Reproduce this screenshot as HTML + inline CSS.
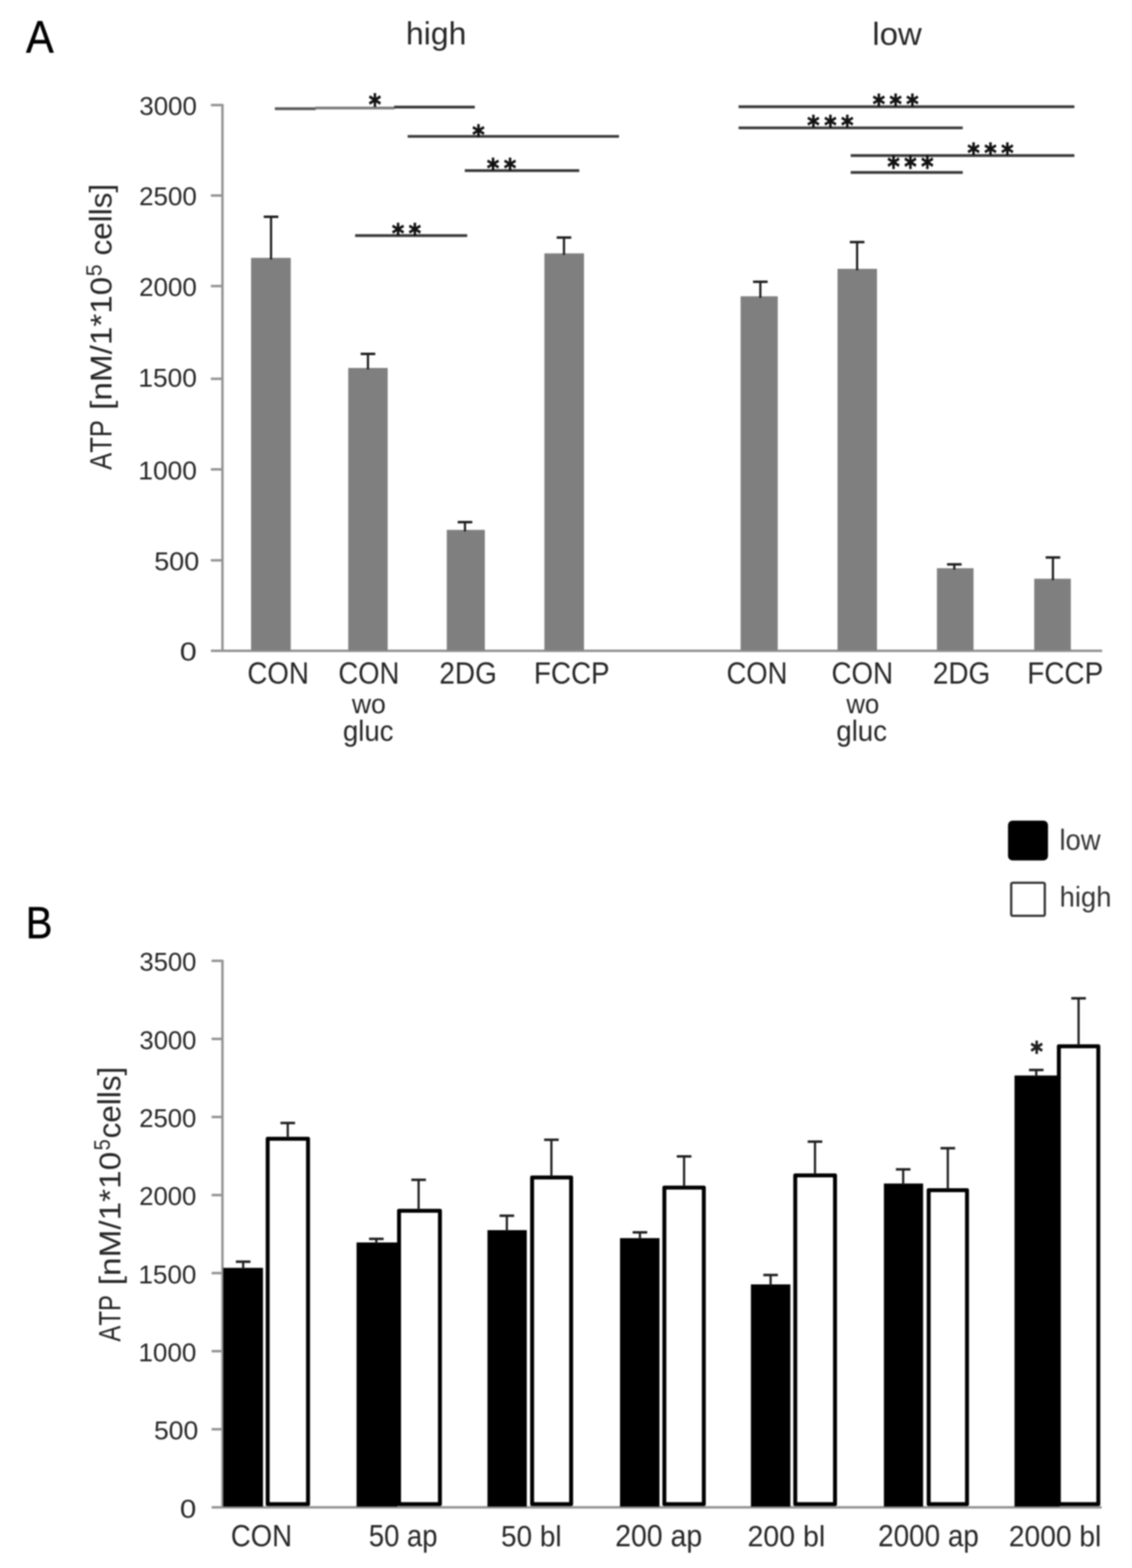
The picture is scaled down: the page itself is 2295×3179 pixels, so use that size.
<!DOCTYPE html>
<html><head><meta charset="utf-8"><title>ATP figure</title>
<style>
html,body{margin:0;padding:0;background:#fff;overflow:hidden;width:2295px;height:3179px;}
svg{display:block;filter:blur(1.5px);}
text{font-kerning:none;}
</style></head>
<body>
<svg width="2295" height="3179" viewBox="0 0 2295 3179">
<rect width="2295" height="3179" fill="#fff"/>
<text transform="matrix(0.9018,0,0,1,52.64,107.40)" font-family="'Liberation Sans', sans-serif" font-size="93.32" fill="#000" stroke="#000" stroke-width="0.8" stroke-linejoin="round">A</text>
<text transform="matrix(1.0110,0,0,1,823.11,90.20)" font-family="'Liberation Sans', sans-serif" font-size="64.03" fill="#262626">high</text>
<text transform="matrix(1.0277,0,0,1,1768.60,90.90)" font-family="'Liberation Sans', sans-serif" font-size="65.00" fill="#262626">low</text>
<line x1="451" y1="211.3" x2="451" y2="1319.6" stroke="#939393" stroke-width="5"/>
<line x1="427.5" y1="1319.6" x2="2234.5" y2="1319.6" stroke="#939393" stroke-width="5"/>
<line x1="427.5" y1="1136.0" x2="452" y2="1136.0" stroke="#939393" stroke-width="5"/>
<line x1="427.5" y1="951.6" x2="452" y2="951.6" stroke="#939393" stroke-width="5"/>
<line x1="427.5" y1="768.0" x2="452" y2="768.0" stroke="#939393" stroke-width="5"/>
<line x1="427.5" y1="580.0" x2="452" y2="580.0" stroke="#939393" stroke-width="5"/>
<line x1="427.5" y1="396.4" x2="452" y2="396.4" stroke="#939393" stroke-width="5"/>
<line x1="427.5" y1="213.0" x2="452" y2="213.0" stroke="#939393" stroke-width="5"/>
<text transform="matrix(1.1969,0,0,1,364.59,1339.30)" font-family="'Liberation Sans', sans-serif" font-size="51.56" fill="#262626">0</text>
<text transform="matrix(1.0488,0,0,1,312.71,1156.40)" font-family="'Liberation Sans', sans-serif" font-size="52.13" fill="#262626">500</text>
<text transform="matrix(1.0222,0,0,1,280.54,972.10)" font-family="'Liberation Sans', sans-serif" font-size="52.13" fill="#262626">1000</text>
<text transform="matrix(1.0222,0,0,1,280.54,783.90)" font-family="'Liberation Sans', sans-serif" font-size="52.13" fill="#262626">1500</text>
<text transform="matrix(1.0098,0,0,1,281.95,599.60)" font-family="'Liberation Sans', sans-serif" font-size="52.13" fill="#262626">2000</text>
<text transform="matrix(1.0098,0,0,1,281.95,416.30)" font-family="'Liberation Sans', sans-serif" font-size="52.13" fill="#262626">2500</text>
<text transform="matrix(1.0040,0,0,1,282.61,233.00)" font-family="'Liberation Sans', sans-serif" font-size="52.13" fill="#262626">3000</text>
<text transform="matrix(0,-0.8354,1,0,226.00,952.50)" font-family="'Liberation Sans', sans-serif" font-size="62.07" fill="#262626">ATP</text>
<text transform="matrix(0,-1.0878,1,0,226.00,831.01)" font-family="'Liberation Sans', sans-serif" font-size="62.00" fill="#262626">[nM/1*10</text>
<text transform="matrix(0,-0.9518,1,0,205.60,560.12)" font-family="'Liberation Sans', sans-serif" font-size="45.20" fill="#262626">5</text>
<text transform="matrix(0,-1.0134,1,0,226.00,518.11)" font-family="'Liberation Sans', sans-serif" font-size="63.00" fill="#262626">cells]</text>
<rect x="509.0" y="522.8" width="80.5" height="795.8" fill="#7f7f7f"/>
<rect x="706.0" y="746.0" width="80.0" height="572.6" fill="#7f7f7f"/>
<rect x="905.8" y="1074.3" width="77.2" height="244.3" fill="#7f7f7f"/>
<rect x="1103.7" y="513.7" width="80.3" height="804.9" fill="#7f7f7f"/>
<rect x="1501.5" y="600.7" width="75.3" height="717.9" fill="#7f7f7f"/>
<rect x="1698.0" y="545.0" width="80.0" height="773.6" fill="#7f7f7f"/>
<rect x="1899.5" y="1152.0" width="74.2" height="166.6" fill="#7f7f7f"/>
<rect x="2096.8" y="1173.3" width="74.2" height="145.3" fill="#7f7f7f"/>
<line x1="549.5" y1="439.5" x2="549.5" y2="525.8" stroke="#1e1e1e" stroke-width="4.5"/>
<line x1="534.7" y1="439.5" x2="564.3" y2="439.5" stroke="#1e1e1e" stroke-width="5"/>
<line x1="746.0" y1="717.5" x2="746.0" y2="749.0" stroke="#1e1e1e" stroke-width="4.5"/>
<line x1="731.2" y1="717.5" x2="760.8" y2="717.5" stroke="#1e1e1e" stroke-width="5"/>
<line x1="942.7" y1="1058.6" x2="942.7" y2="1077.3" stroke="#1e1e1e" stroke-width="4.5"/>
<line x1="927.9" y1="1058.6" x2="957.5" y2="1058.6" stroke="#1e1e1e" stroke-width="5"/>
<line x1="1143.4" y1="481.6" x2="1143.4" y2="516.7" stroke="#1e1e1e" stroke-width="4.5"/>
<line x1="1128.6" y1="481.6" x2="1158.2" y2="481.6" stroke="#1e1e1e" stroke-width="5"/>
<line x1="1541.5" y1="571.3" x2="1541.5" y2="603.7" stroke="#1e1e1e" stroke-width="4.5"/>
<line x1="1526.7" y1="571.3" x2="1556.3" y2="571.3" stroke="#1e1e1e" stroke-width="5"/>
<line x1="1737.7" y1="490.8" x2="1737.7" y2="548.0" stroke="#1e1e1e" stroke-width="4.5"/>
<line x1="1722.9" y1="490.8" x2="1752.5" y2="490.8" stroke="#1e1e1e" stroke-width="5"/>
<line x1="1934.8" y1="1144.2" x2="1934.8" y2="1155.0" stroke="#1e1e1e" stroke-width="4.5"/>
<line x1="1920.0" y1="1144.2" x2="1949.6" y2="1144.2" stroke="#1e1e1e" stroke-width="5"/>
<line x1="2134.7" y1="1130.2" x2="2134.7" y2="1176.3" stroke="#1e1e1e" stroke-width="4.5"/>
<line x1="2119.9" y1="1130.2" x2="2149.5" y2="1130.2" stroke="#1e1e1e" stroke-width="5"/>
<text transform="matrix(0.9010,0,0,1,501.55,1386.00)" font-family="'Liberation Sans', sans-serif" font-size="62.30" fill="#262626">CON</text>
<text transform="matrix(0.8925,0,0,1,1472.98,1386.00)" font-family="'Liberation Sans', sans-serif" font-size="62.30" fill="#262626">CON</text>
<text transform="matrix(0.8917,0,0,1,686.08,1386.00)" font-family="'Liberation Sans', sans-serif" font-size="62.30" fill="#262626">CON</text>
<text transform="matrix(0.9040,0,0,1,1685.64,1386.00)" font-family="'Liberation Sans', sans-serif" font-size="62.30" fill="#262626">CON</text>
<text transform="matrix(0.9651,0,0,1,713.48,1446.00)" font-family="'Liberation Sans', sans-serif" font-size="55.75" fill="#262626">wo</text>
<text transform="matrix(0.9361,0,0,1,1715.88,1446.00)" font-family="'Liberation Sans', sans-serif" font-size="55.75" fill="#262626">wo</text>
<text transform="matrix(0.9525,0,0,1,695.15,1501.60)" font-family="'Liberation Sans', sans-serif" font-size="58.79" fill="#262626">gluc</text>
<text transform="matrix(0.9544,0,0,1,1695.44,1501.60)" font-family="'Liberation Sans', sans-serif" font-size="58.79" fill="#262626">gluc</text>
<text transform="matrix(0.9093,0,0,1,890.85,1386.00)" font-family="'Liberation Sans', sans-serif" font-size="62.30" fill="#262626">2DG</text>
<text transform="matrix(0.9093,0,0,1,1891.15,1386.00)" font-family="'Liberation Sans', sans-serif" font-size="62.30" fill="#262626">2DG</text>
<text transform="matrix(0.9039,0,0,1,1082.58,1386.00)" font-family="'Liberation Sans', sans-serif" font-size="62.30" fill="#262626">FCCP</text>
<text transform="matrix(0.9064,0,0,1,2082.87,1386.00)" font-family="'Liberation Sans', sans-serif" font-size="62.30" fill="#262626">FCCP</text>
<line x1="557.2" y1="220.4" x2="640" y2="220.4" stroke="#5a5a5a" stroke-width="5.6"/>
<line x1="639" y1="219.0" x2="800" y2="219.0" stroke="#7a7a7a" stroke-width="5.6"/>
<line x1="799" y1="217.1" x2="962.6" y2="217.1" stroke="#3a3a3a" stroke-width="5.6"/>
<text transform="matrix(0.8418,0,0,1,747.54,231.86)" font-family="'DejaVu Sans', sans-serif" font-weight="bold" font-size="57.07" fill="#111" stroke="#111" stroke-width="1.3">*</text>
<line x1="826.5" y1="276.5" x2="1255.0" y2="276.5" stroke="#3a3a3a" stroke-width="5.6"/>
<text transform="matrix(0.8923,0,0,1,957.44,291.96)" font-family="'DejaVu Sans', sans-serif" font-weight="bold" font-size="53.84" fill="#111" stroke="#111" stroke-width="1.3">*</text>
<line x1="942.3" y1="345.9" x2="1174.4" y2="345.9" stroke="#3a3a3a" stroke-width="5.6"/>
<text transform="matrix(0.8923,0,0,1,986.94,359.86)" font-family="'DejaVu Sans', sans-serif" font-weight="bold" font-size="53.84" fill="#111" stroke="#111" stroke-width="1.3">*</text>
<text transform="matrix(0.8923,0,0,1,1021.44,359.86)" font-family="'DejaVu Sans', sans-serif" font-weight="bold" font-size="53.84" fill="#111" stroke="#111" stroke-width="1.3">*</text>
<line x1="720.0" y1="477.6" x2="947.2" y2="477.6" stroke="#3a3a3a" stroke-width="5.6"/>
<text transform="matrix(0.8923,0,0,1,794.44,491.56)" font-family="'DejaVu Sans', sans-serif" font-weight="bold" font-size="53.84" fill="#111" stroke="#111" stroke-width="1.3">*</text>
<text transform="matrix(0.8923,0,0,1,828.44,491.56)" font-family="'DejaVu Sans', sans-serif" font-weight="bold" font-size="53.84" fill="#111" stroke="#111" stroke-width="1.3">*</text>
<line x1="1497.4" y1="216.4" x2="2178.2" y2="216.4" stroke="#3a3a3a" stroke-width="5.6"/>
<text transform="matrix(0.8923,0,0,1,1769.14,230.36)" font-family="'DejaVu Sans', sans-serif" font-weight="bold" font-size="53.84" fill="#111" stroke="#111" stroke-width="1.3">*</text>
<text transform="matrix(0.8923,0,0,1,1803.34,230.36)" font-family="'DejaVu Sans', sans-serif" font-weight="bold" font-size="53.84" fill="#111" stroke="#111" stroke-width="1.3">*</text>
<text transform="matrix(0.8923,0,0,1,1837.34,230.36)" font-family="'DejaVu Sans', sans-serif" font-weight="bold" font-size="53.84" fill="#111" stroke="#111" stroke-width="1.3">*</text>
<line x1="1497.4" y1="259.2" x2="1951.9" y2="259.2" stroke="#3a3a3a" stroke-width="5.6"/>
<text transform="matrix(0.8923,0,0,1,1636.44,273.16)" font-family="'DejaVu Sans', sans-serif" font-weight="bold" font-size="53.84" fill="#111" stroke="#111" stroke-width="1.3">*</text>
<text transform="matrix(0.8923,0,0,1,1670.94,273.16)" font-family="'DejaVu Sans', sans-serif" font-weight="bold" font-size="53.84" fill="#111" stroke="#111" stroke-width="1.3">*</text>
<text transform="matrix(0.8923,0,0,1,1705.14,273.16)" font-family="'DejaVu Sans', sans-serif" font-weight="bold" font-size="53.84" fill="#111" stroke="#111" stroke-width="1.3">*</text>
<line x1="1724.7" y1="315.4" x2="2178.2" y2="315.4" stroke="#3a3a3a" stroke-width="5.6"/>
<text transform="matrix(0.8923,0,0,1,1961.34,329.36)" font-family="'DejaVu Sans', sans-serif" font-weight="bold" font-size="53.84" fill="#111" stroke="#111" stroke-width="1.3">*</text>
<text transform="matrix(0.8923,0,0,1,1995.54,329.36)" font-family="'DejaVu Sans', sans-serif" font-weight="bold" font-size="53.84" fill="#111" stroke="#111" stroke-width="1.3">*</text>
<text transform="matrix(0.8923,0,0,1,2029.74,329.36)" font-family="'DejaVu Sans', sans-serif" font-weight="bold" font-size="53.84" fill="#111" stroke="#111" stroke-width="1.3">*</text>
<line x1="1724.7" y1="349.6" x2="1951.9" y2="349.6" stroke="#3a3a3a" stroke-width="5.6"/>
<text transform="matrix(0.8418,0,0,1,1799.04,358.36)" font-family="'DejaVu Sans', sans-serif" font-weight="bold" font-size="57.07" fill="#111" stroke="#111" stroke-width="1.3">*</text>
<text transform="matrix(0.8418,0,0,1,1833.34,358.36)" font-family="'DejaVu Sans', sans-serif" font-weight="bold" font-size="57.07" fill="#111" stroke="#111" stroke-width="1.3">*</text>
<text transform="matrix(0.8418,0,0,1,1867.44,358.36)" font-family="'DejaVu Sans', sans-serif" font-weight="bold" font-size="57.07" fill="#111" stroke="#111" stroke-width="1.3">*</text>
<text transform="matrix(0.8949,0,0,1,52.34,1902.30)" font-family="'Liberation Sans', sans-serif" font-size="90.70" fill="#000" stroke="#000" stroke-width="0.8" stroke-linejoin="round">B</text>
<line x1="451" y1="1946.3" x2="451" y2="3056.0" stroke="#939393" stroke-width="5"/>
<line x1="429" y1="3056.0" x2="2233.5" y2="3056.0" stroke="#939393" stroke-width="5"/>
<line x1="429" y1="2897.7" x2="452" y2="2897.7" stroke="#939393" stroke-width="5"/>
<line x1="429" y1="2739.4" x2="452" y2="2739.4" stroke="#939393" stroke-width="5"/>
<line x1="429" y1="2581.1" x2="452" y2="2581.1" stroke="#939393" stroke-width="5"/>
<line x1="429" y1="2422.9" x2="452" y2="2422.9" stroke="#939393" stroke-width="5"/>
<line x1="429" y1="2264.6" x2="452" y2="2264.6" stroke="#939393" stroke-width="5"/>
<line x1="429" y1="2106.3" x2="452" y2="2106.3" stroke="#939393" stroke-width="5"/>
<line x1="429" y1="1948.0" x2="452" y2="1948.0" stroke="#939393" stroke-width="5"/>
<text transform="matrix(1.1405,0,0,1,364.77,3076.50)" font-family="'Liberation Sans', sans-serif" font-size="52.27" fill="#262626">0</text>
<text transform="matrix(1.0263,0,0,1,312.15,2918.11)" font-family="'Liberation Sans', sans-serif" font-size="52.42" fill="#262626">500</text>
<text transform="matrix(1.0057,0,0,1,280.78,2759.83)" font-family="'Liberation Sans', sans-serif" font-size="52.42" fill="#262626">1000</text>
<text transform="matrix(1.0057,0,0,1,280.78,2601.54)" font-family="'Liberation Sans', sans-serif" font-size="52.42" fill="#262626">1500</text>
<text transform="matrix(0.9935,0,0,1,282.18,2443.26)" font-family="'Liberation Sans', sans-serif" font-size="52.42" fill="#262626">2000</text>
<text transform="matrix(0.9935,0,0,1,282.18,2284.97)" font-family="'Liberation Sans', sans-serif" font-size="52.42" fill="#262626">2500</text>
<text transform="matrix(0.9879,0,0,1,282.83,2126.69)" font-family="'Liberation Sans', sans-serif" font-size="52.42" fill="#262626">3000</text>
<text transform="matrix(0.9879,0,0,1,282.83,1968.40)" font-family="'Liberation Sans', sans-serif" font-size="52.42" fill="#262626">3500</text>
<text transform="matrix(0,-0.7754,1,0,243.50,2719.89)" font-family="'Liberation Sans', sans-serif" font-size="62.50" fill="#262626">ATP</text>
<text transform="matrix(0,-1.0903,1,0,243.50,2605.72)" font-family="'Liberation Sans', sans-serif" font-size="62.00" fill="#262626">[nM/1*10</text>
<text transform="matrix(0,-0.8761,1,0,223.00,2332.22)" font-family="'Liberation Sans', sans-serif" font-size="46.22" fill="#262626">5</text>
<text transform="matrix(0,-0.9976,1,0,243.50,2308.11)" font-family="'Liberation Sans', sans-serif" font-size="64.00" fill="#262626">cells]</text>
<rect x="452.6" y="2570.5" width="80.6" height="484.0" fill="#000"/>
<rect x="722.9" y="2519.0" width="83.1" height="535.5" fill="#000"/>
<rect x="988.3" y="2494.0" width="79.7" height="560.5" fill="#000"/>
<rect x="1257.0" y="2510.2" width="80.0" height="544.3" fill="#000"/>
<rect x="1522.4" y="2604.0" width="80.0" height="450.5" fill="#000"/>
<rect x="1792.0" y="2399.5" width="79.5" height="655.0" fill="#000"/>
<rect x="2056.8" y="2180.5" width="91.7" height="874.0" fill="#000"/>
<rect x="542.7" y="2308.7" width="81.8" height="740.8" fill="#fff" stroke="#000" stroke-width="8.0" stroke-linejoin="round"/>
<rect x="809.0" y="2454.7" width="82.9" height="594.8" fill="#fff" stroke="#000" stroke-width="8.0" stroke-linejoin="round"/>
<rect x="1078.8" y="2387.2" width="79.1" height="662.3" fill="#fff" stroke="#000" stroke-width="8.0" stroke-linejoin="round"/>
<rect x="1346.9" y="2407.8" width="80.0" height="641.7" fill="#fff" stroke="#000" stroke-width="8.0" stroke-linejoin="round"/>
<rect x="1612.3" y="2383.1" width="80.6" height="666.4" fill="#fff" stroke="#000" stroke-width="8.0" stroke-linejoin="round"/>
<rect x="1882.8" y="2413.0" width="77.7" height="636.5" fill="#fff" stroke="#000" stroke-width="8.0" stroke-linejoin="round"/>
<rect x="2146.7" y="2121.3" width="80.0" height="928.2" fill="#fff" stroke="#000" stroke-width="8.0" stroke-linejoin="round"/>
<line x1="493.0" y1="2558.0" x2="493.0" y2="2572.5" stroke="#1e1e1e" stroke-width="4.5"/>
<line x1="478.2" y1="2558.0" x2="507.8" y2="2558.0" stroke="#1e1e1e" stroke-width="5"/>
<line x1="583.4" y1="2276.8" x2="583.4" y2="2306.7" stroke="#1e1e1e" stroke-width="4.5"/>
<line x1="568.6" y1="2276.8" x2="598.2" y2="2276.8" stroke="#1e1e1e" stroke-width="5"/>
<line x1="763.0" y1="2511.7" x2="763.0" y2="2521.0" stroke="#1e1e1e" stroke-width="4.5"/>
<line x1="748.2" y1="2511.7" x2="777.8" y2="2511.7" stroke="#1e1e1e" stroke-width="5"/>
<line x1="848.7" y1="2392.0" x2="848.7" y2="2452.7" stroke="#1e1e1e" stroke-width="4.5"/>
<line x1="833.9" y1="2392.0" x2="863.5" y2="2392.0" stroke="#1e1e1e" stroke-width="5"/>
<line x1="1027.6" y1="2464.8" x2="1027.6" y2="2496.0" stroke="#1e1e1e" stroke-width="4.5"/>
<line x1="1012.8" y1="2464.8" x2="1042.4" y2="2464.8" stroke="#1e1e1e" stroke-width="5"/>
<line x1="1117.9" y1="2310.8" x2="1117.9" y2="2385.2" stroke="#1e1e1e" stroke-width="4.5"/>
<line x1="1103.1" y1="2310.8" x2="1132.7" y2="2310.8" stroke="#1e1e1e" stroke-width="5"/>
<line x1="1297.4" y1="2498.5" x2="1297.4" y2="2512.2" stroke="#1e1e1e" stroke-width="4.5"/>
<line x1="1282.6" y1="2498.5" x2="1312.2" y2="2498.5" stroke="#1e1e1e" stroke-width="5"/>
<line x1="1386.9" y1="2344.5" x2="1386.9" y2="2405.8" stroke="#1e1e1e" stroke-width="4.5"/>
<line x1="1372.1" y1="2344.5" x2="1401.7" y2="2344.5" stroke="#1e1e1e" stroke-width="5"/>
<line x1="1562.3" y1="2585.0" x2="1562.3" y2="2606.0" stroke="#1e1e1e" stroke-width="4.5"/>
<line x1="1547.5" y1="2585.0" x2="1577.1" y2="2585.0" stroke="#1e1e1e" stroke-width="5"/>
<line x1="1652.3" y1="2314.6" x2="1652.3" y2="2381.1" stroke="#1e1e1e" stroke-width="4.5"/>
<line x1="1637.5" y1="2314.6" x2="1667.1" y2="2314.6" stroke="#1e1e1e" stroke-width="5"/>
<line x1="1831.1" y1="2370.8" x2="1831.1" y2="2401.5" stroke="#1e1e1e" stroke-width="4.5"/>
<line x1="1816.3" y1="2370.8" x2="1845.9" y2="2370.8" stroke="#1e1e1e" stroke-width="5"/>
<line x1="1921.6" y1="2327.9" x2="1921.6" y2="2411.0" stroke="#1e1e1e" stroke-width="4.5"/>
<line x1="1906.8" y1="2327.9" x2="1936.4" y2="2327.9" stroke="#1e1e1e" stroke-width="5"/>
<line x1="2100.9" y1="2169.3" x2="2100.9" y2="2182.5" stroke="#1e1e1e" stroke-width="4.5"/>
<line x1="2086.1" y1="2169.3" x2="2115.7" y2="2169.3" stroke="#1e1e1e" stroke-width="5"/>
<line x1="2186.7" y1="2024.0" x2="2186.7" y2="2119.3" stroke="#1e1e1e" stroke-width="4.5"/>
<line x1="2171.9" y1="2024.0" x2="2201.5" y2="2024.0" stroke="#1e1e1e" stroke-width="5"/>
<text transform="matrix(0.8580,0,0,1,2089.14,2150.56)" font-family="'DejaVu Sans', sans-serif" font-weight="bold" font-size="55.99" fill="#222" stroke="#111" stroke-width="1.3">*</text>
<text transform="matrix(0.8963,0,0,1,467.96,3135.00)" font-family="'Liberation Sans', sans-serif" font-size="62.30" fill="#262626">CON</text>
<text transform="matrix(0.8933,0,0,1,747.77,3135.00)" font-family="'Liberation Sans', sans-serif" font-size="62.30" fill="#262626">50 ap</text>
<text transform="matrix(0.9430,0,0,1,1015.73,3135.00)" font-family="'Liberation Sans', sans-serif" font-size="60.03" fill="#262626">50 bl</text>
<text transform="matrix(0.9259,0,0,1,1247.20,3135.00)" font-family="'Liberation Sans', sans-serif" font-size="62.30" fill="#262626">200 ap</text>
<text transform="matrix(0.9640,0,0,1,1515.39,3135.00)" font-family="'Liberation Sans', sans-serif" font-size="60.03" fill="#262626">200 bl</text>
<text transform="matrix(0.9073,0,0,1,1780.26,3135.00)" font-family="'Liberation Sans', sans-serif" font-size="62.30" fill="#262626">2000 ap</text>
<text transform="matrix(0.9520,0,0,1,2045.33,3135.00)" font-family="'Liberation Sans', sans-serif" font-size="60.03" fill="#262626">2000 bl</text>
<rect x="2043.6" y="1663.8" width="81.1" height="80.7" rx="9" fill="#000"/>
<rect x="2050.1" y="1789.8" width="68.1" height="66.9" rx="3" fill="#fff" stroke="#333" stroke-width="4.6"/>
<text transform="matrix(0.9334,0,0,1,2147.96,1723.40)" font-family="'Liberation Sans', sans-serif" font-size="59.48" fill="#333">low</text>
<text transform="matrix(0.9555,0,0,1,2148.35,1837.90)" font-family="'Liberation Sans', sans-serif" font-size="58.10" fill="#333">high</text>
</svg>
</body></html>
